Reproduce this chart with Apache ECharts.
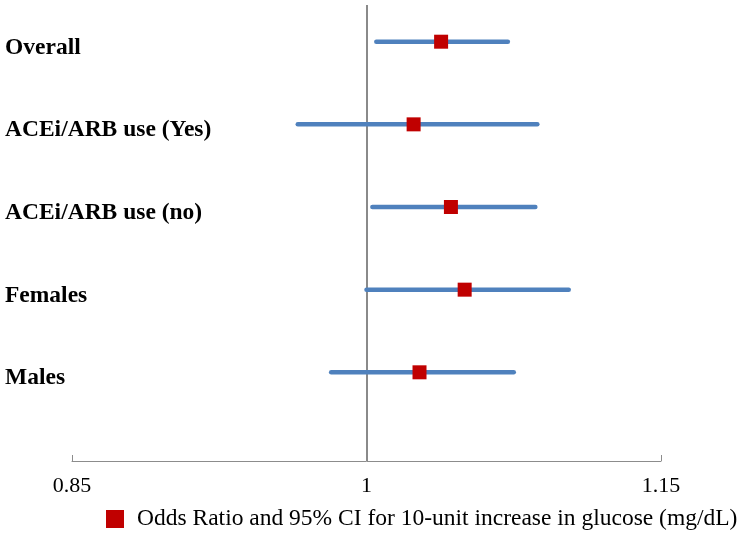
<!DOCTYPE html>
<html>
<head>
<meta charset="utf-8">
<script src="https://cdn.jsdelivr.net/npm/echarts@6/dist/echarts.min.js"></script>
<style>html,body{margin:0;padding:0;background:#fff}#c{width:743px;height:535px}</style>
</head>
<body>
<div id="c"></div>
<script>
var categories = ["Overall", "ACEi/ARB use (Yes)", "ACEi/ARB use (no)", "Females", "Males"];
var rowPos = [5, 4, 3, 2, 1];
var estimates = [1.038, 1.024, 1.043, 1.050, 1.027];
var lowerCI = [1.005, 0.965, 1.003, 1.000, 0.982];
var upperCI = [1.072, 1.087, 1.086, 1.103, 1.075];
var xTicks = [0.85, 1, 1.15];
var legendName = "Odds Ratio and 95% CI for 10-unit increase in glucose (mg/dL)";

var ciData = categories.map(function (c, i) { return [lowerCI[i], upperCI[i], rowPos[i]]; });
var pointData = categories.map(function (c, i) { return [estimates[i], rowPos[i]]; });
var labelByPos = {};
rowPos.forEach(function (p, i) { labelByPos[p] = categories[i]; });

var chart = echarts.init(document.getElementById('c'), null, { renderer: 'canvas' });
chart.setOption({
  animation: false,
  backgroundColor: '#ffffff',
  grid: { left: 72, right: 82, top: 5, bottom: 74, containLabel: false },
  xAxis: {
    type: 'value', min: 0.85, max: 1.15, interval: 0.15,
    axisLine: { show: true, onZero: false, lineStyle: { color: '#8c8c8c', width: 1 } },
    axisTick: { show: true, inside: true, length: 6, lineStyle: { color: '#8c8c8c' } },
    splitLine: { show: false },
    axisLabel: {
      margin: 14, fontFamily: 'Liberation Serif', fontSize: 22, color: '#000',
      formatter: function (v) { var r = Math.round(v * 100) / 100; return xTicks.indexOf(r) >= 0 ? String(r) : ''; }
    }
  },
  yAxis: {
    type: 'value', min: -0.073, max: 5.444,
    axisLine: { show: false }, axisTick: { show: false }, splitLine: { show: false },
    axisLabel: {
      customValues: rowPos,
      align: 'left', verticalAlign: 'top', lineHeight: 12, margin: 67,
      fontFamily: 'Liberation Serif', fontWeight: 'bold', fontSize: 23.5, color: '#000',
      formatter: function (v) { return labelByPos[v] || ''; }
    }
  },
  legend: {
    data: [{ name: legendName, icon: 'rect' }],
    left: 101, top: 502, itemWidth: 18, itemHeight: 18, itemGap: 10,
    textStyle: { fontFamily: 'Liberation Serif', fontSize: 23.5, color: '#000', padding: [0, 0, 0, 8] }
  },
  series: [
    {
      type: 'custom', name: 'CI', silent: true,
      data: ciData,
      encode: { x: [0, 1], y: 2 },
      renderItem: function (params, api) {
        var a = api.coord([api.value(0), api.value(2)]);
        var b = api.coord([api.value(1), api.value(2)]);
        return {
          type: 'line',
          shape: { x1: a[0], y1: a[1], x2: b[0], y2: b[1] },
          style: { stroke: '#4f81bd', lineWidth: 4.5, lineCap: 'round' }
        };
      },
      z: 2
    },
    {
      type: 'scatter', name: legendName,
      data: pointData,
      symbol: 'rect', symbolSize: 14,
      itemStyle: { color: '#c00000', opacity: 1 },
      z: 3,
      markLine: {
        silent: true, symbol: 'none', label: { show: false },
        lineStyle: { color: '#8a8a8a', width: 2, type: 'solid' },
        data: [{ xAxis: 1 }],
        z: 1
      }
    }
  ]
});
</script>
</body>
</html>
